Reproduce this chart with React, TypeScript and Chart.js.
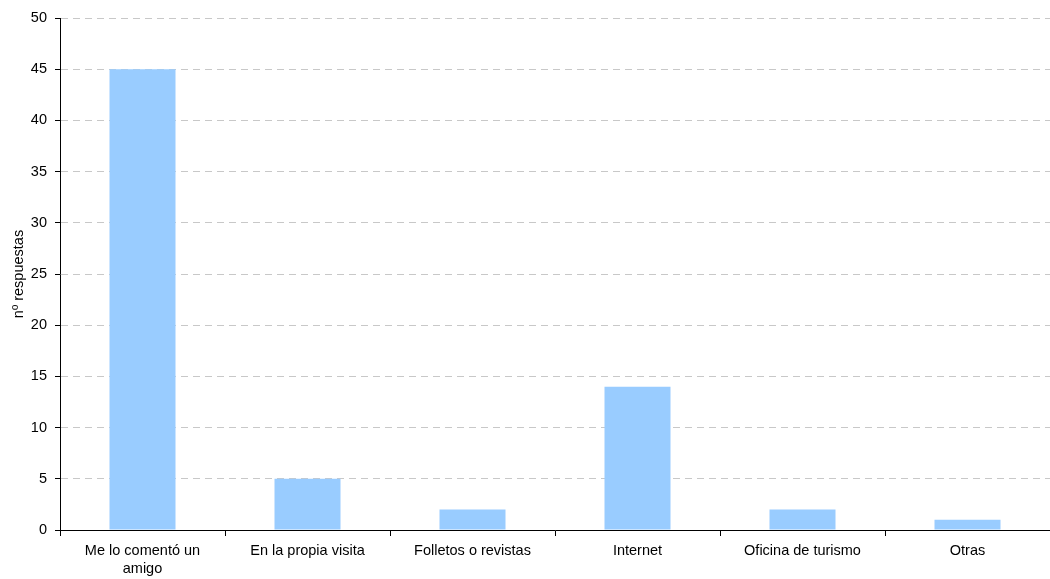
import React, { useEffect, useRef } from "react";
import { Chart, registerables } from "chart.js";

Chart.register(...registerables);

const categories: (string | string[])[] = [
  ["Me lo comentó un", "amigo"],
  "En la propia visita",
  "Folletos o revistas",
  "Internet",
  "Oficina de turismo",
  "Otras",
];
const values = [45, 5, 2, 14, 2, 1];
const yTitle = "nº respuestas";

export default function App() {
  const ref = useRef<HTMLCanvasElement | null>(null);
  useEffect(() => {
    if (!ref.current) return;
    const font = { family: "'Liberation Sans', Arial, sans-serif", size: 14.5, lineHeight: 1.25 };
    const chart = new Chart(ref.current, {
      type: "bar",
      data: {
        labels: categories,
        datasets: [
          {
            data: values,
            backgroundColor: "#99CCFF",
            borderWidth: 0,
            barPercentage: 0.4,
            categoryPercentage: 1,
          },
        ],
      },
      options: {
        animation: false,
        responsive: false,
        maintainAspectRatio: false,
        layout: { padding: { top: 18, right: 0, bottom: 0, left: 0 } },
        plugins: { legend: { display: false }, tooltip: { enabled: false } },
        scales: {
          x: {
            offset: true,
            grid: {
              display: true,
              offset: true,
              drawOnChartArea: false,
              drawTicks: true,
              tickLength: 6,
              tickColor: "#000",
              color: "#000",
            },
            border: { display: true, color: "#000", width: 1 },
            ticks: { color: "#000", font, padding: 6, maxRotation: 0, autoSkip: false },
            afterFit: (s: any) => {
              s.height = 49;
            },
          },
          y: {
            min: 0,
            max: 50,
            ticks: { stepSize: 5, color: "#000", font, padding: 8 },
            grid: {
              color: "#c8c8c8",
              lineWidth: 1,
              drawTicks: true,
              tickLength: 5,
              tickColor: "#000",
              tickBorderDash: [],
            },
            border: { display: true, color: "#000", width: 1, dash: [7, 5] },
            title: { display: true, text: yTitle, color: "#000", font, padding: { top: 10, bottom: 0 } },
            afterFit: (s: any) => {
              s.width = 60;
            },
          },
        },
      },
    });
    return () => chart.destroy();
  }, []);
  return (
    <div style={{ position: "fixed", left: 0, top: 0, width: 1050, height: 579, background: "#fff" }}>
      <canvas ref={ref} width={1050} height={579} style={{ width: 1050, height: 579 }} />
    </div>
  );
}
